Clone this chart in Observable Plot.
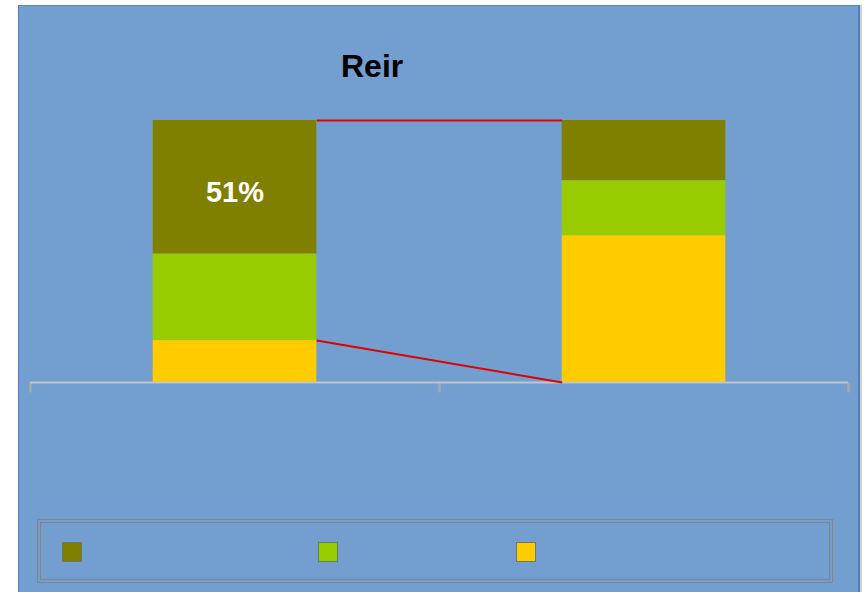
<!DOCTYPE html>
<html>
<head>
<meta charset="utf-8">
<script src="https://cdn.jsdelivr.net/npm/d3@7"></script>
<script src="https://cdn.jsdelivr.net/npm/@observablehq/plot@0.6"></script>
<style>
  html, body { margin: 0; padding: 0; background: #ffffff; width: 864px; height: 592px; overflow: hidden; }
  #panel { position: absolute; left: 18px; top: 5px; width: 839px; height: 600px; background: #729fcf;
           border-left: 1px solid #4f7fbd; border-top: 1px solid #5b86bf; border-right: 2px solid #4f7fbd;
           box-shadow: 2px 0 0 #d0d0d0; }
  #title { position: absolute; left: 341px; top: 46px; font-family: "Liberation Sans", Arial, sans-serif;
           font-weight: bold; font-size: 32px; color: #000; line-height: 40px; width: 62px; overflow: hidden; white-space: nowrap; }
  #chart { position: absolute; left: 0; top: 0; }
  #legend { position: absolute; left: 37px; top: 519px; width: 788px; height: 56px;
            border: 4px double #858585; }
  .sw { position: absolute; top: 19px; width: 18px; height: 18px; border: 1px solid #6b7b5b; }
</style>
</head>
<body>
<div id="panel"></div>
<div id="title">Reir</div>
<div id="chart"></div>
<div id="legend"></div>
<script>
// ---- data ----
const categories = ["Category 1", "Category 2"];
const seriesNames = ["Series A", "Series B", "Series C"];
const seriesColors = ["#808000", "#99cc00", "#ffcc00"];
const valuesA = [51, 23];   // olive (top)
const valuesB = [33, 21];   // green
const valuesC = [16, 56];   // yellow (bottom)
const barLabels = ["51%", ""];
// connector levels: [left bar level, right bar level]
const connectorFrom = [100, 16];
const connectorTo = [100, 0];

// ---- build table ----
const allValues = [valuesA, valuesB, valuesC];
const rows = [];
categories.forEach((c, i) => {
  seriesNames.forEach((s, j) => {
    rows.push({cat: c, idx: i, series: s, value: allValues[j][i]});
  });
});
const halfBar = 0.2;
const tickDepth = -3.8; // tick mark length below the baseline, in y units
const links = connectorFrom.map((v, k) => ({x1: 0.5 + halfBar, x2: 1.5 - halfBar, y1: v, y2: connectorTo[k]}));
const labelRows = categories.map((c, i) => ({idx: i, label: barLabels[i], y: valuesC[i] + valuesB[i] + valuesA[i] / 2}));
const tickRows = d3.range(categories.length + 1).map(t => ({t, top: 0, bottom: tickDepth}));

const chart = Plot.plot({
  width: 864,
  height: 592,
  marginLeft: 30,
  marginRight: 16,
  marginTop: 120,
  marginBottom: 210,
  style: {background: "transparent", overflow: "visible"},
  x: {domain: [0, categories.length], axis: null},
  y: {domain: [0, 100], axis: null},
  color: {domain: seriesNames, range: seriesColors},
  marks: [
    Plot.rectY(rows, Plot.stackY({
      x1: d => d.idx + 0.5 - halfBar,
      x2: d => d.idx + 0.5 + halfBar,
      y: "value",
      z: "series",
      fill: "series",
      order: seriesNames.slice().reverse()
    })),
    Plot.link(tickRows, {x1: "t", x2: "t", y1: "top", y2: "bottom", stroke: "#a8a8a8", strokeWidth: 2.5}),
    Plot.ruleY([0], {stroke: "#c4c4c4", strokeWidth: 2}),
    Plot.link(links, {x1: "x1", x2: "x2", y1: "y1", y2: "y2", stroke: "#e00000", strokeWidth: 2}),
    Plot.text(labelRows, {x: d => d.idx + 0.5, y: "y", text: "label", fill: "#ffffff", dy: 5,
      fontSize: 29, fontWeight: "bold", fontFamily: "Liberation Sans, Arial, sans-serif"})
  ]
});
document.getElementById("chart").appendChild(chart);

// legend swatches (no visible labels)
const legend = document.getElementById("legend");
const swatchX = [21, 277, 475];
seriesNames.forEach((s, j) => {
  const d = document.createElement("div");
  d.className = "sw";
  d.style.left = swatchX[j] + "px";
  d.style.background = seriesColors[j];
  d.title = s;
  legend.appendChild(d);
});
</script>
</body>
</html>
